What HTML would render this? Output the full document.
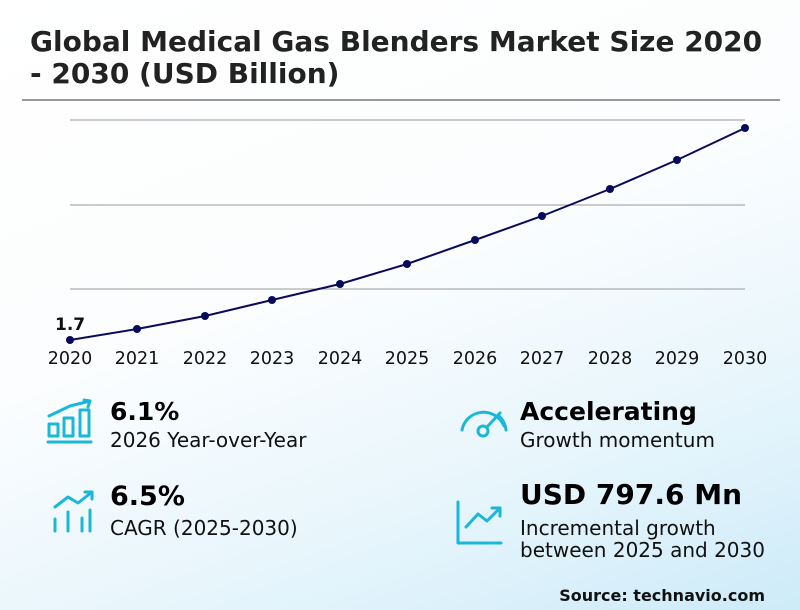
<!DOCTYPE html>
<html><head><meta charset="utf-8"><style>
html,body{margin:0;padding:0}
body{width:800px;height:610px;overflow:hidden;background:linear-gradient(160deg,#ffffff 0%,#fbfdfe 45%,#e6f5fc 75%,#cdebf8 100%);font-family:"DejaVu Sans","Liberation Sans",sans-serif}
</style></head><body>
<svg width="800" height="610" xmlns="http://www.w3.org/2000/svg" style="position:absolute;left:0;top:0;font-family:'DejaVu Sans','Liberation Sans',sans-serif">
<text x="30" y="51" font-size="28" font-weight="bold" fill="#222">Global Medical Gas Blenders Market Size 2020</text>
<text x="30" y="83" font-size="28" font-weight="bold" fill="#222">- 2030 (USD Billion)</text>
<line x1="22" y1="100" x2="780" y2="100" stroke="#777" stroke-width="1.5"/>
<g stroke="#999" stroke-width="1">
<line x1="70" y1="120" x2="745" y2="120"/><line x1="70" y1="205" x2="745" y2="205"/><line x1="70" y1="289" x2="745" y2="289"/>
</g>
<polyline fill="none" stroke="#0a0a5a" stroke-width="2" points="70,340 137,329 205,316 272,300 340,284 407,264 475,240 542,216 610,189 677,160 745,128"/>
<g fill="#0a0a5a">
<circle cx="70" cy="340" r="4"/><circle cx="137" cy="329" r="4"/><circle cx="205" cy="316" r="4"/><circle cx="272" cy="300" r="4"/><circle cx="340" cy="284" r="4"/><circle cx="407" cy="264" r="4"/><circle cx="475" cy="240" r="4"/><circle cx="542" cy="216" r="4"/><circle cx="610" cy="189" r="4"/><circle cx="677" cy="160" r="4"/><circle cx="745" cy="128" r="4"/>
</g>
<text x="55" y="330" font-size="17" font-weight="bold" fill="#111">1.7</text>
<g font-size="17.5" fill="#111" text-anchor="middle">
<text x="70" y="364">2020</text><text x="137" y="364">2021</text><text x="205" y="364">2022</text><text x="272" y="364">2023</text><text x="340" y="364">2024</text><text x="407" y="364">2025</text><text x="475" y="364">2026</text><text x="542" y="364">2027</text><text x="610" y="364">2028</text><text x="677" y="364">2029</text><text x="745" y="364">2030</text>
</g>
<g stroke="#1ab8d8" stroke-width="3" fill="none" stroke-linecap="round" stroke-linejoin="round">
<line x1="48" y1="442" x2="91" y2="442"/>
<rect x="49" y="424" width="9" height="12"/><rect x="64" y="418" width="9" height="18"/><rect x="80" y="410" width="9" height="26"/>
<polyline points="49,416 70,406 90,401"/><polyline points="84,400 90,401 88,407"/>
<line x1="55" y1="519" x2="55" y2="531"/><line x1="68" y1="512" x2="68" y2="531"/><line x1="82" y1="518" x2="82" y2="531"/><line x1="90" y1="510" x2="90" y2="531"/>
<polyline points="55,507 68,497 78,503 92,492"/><polyline points="85,492 92,492 92,499"/>
<path d="M462,430 A22,22 0 0 1 504,426"/>
<path d="M499,416 A22,22 0 0 1 506,430"/>
<circle cx="483" cy="431" r="5"/><line x1="487" y1="427" x2="500" y2="413"/>
<polyline points="458,502 458,543 501,543"/>
<polyline points="466,527 478,514 487,521 500,508"/><polyline points="492,508 500,508 500,516"/>
</g>
<text x="110" y="420" font-size="25" font-weight="bold" fill="#000">6.1%</text>
<text x="110" y="447" font-size="20" fill="#111">2026 Year-over-Year</text>
<text x="110" y="505" font-size="27" font-weight="bold" fill="#000">6.5%</text>
<text x="110" y="535" font-size="20" fill="#111">CAGR (2025-2030)</text>
<text x="520" y="420" font-size="25" font-weight="bold" fill="#000">Accelerating</text>
<text x="520" y="447" font-size="20" fill="#111">Growth momentum</text>
<text x="520" y="504" font-size="28" font-weight="bold" fill="#000">USD 797.6 Mn</text>
<text x="520" y="535" font-size="20" fill="#111">Incremental growth</text>
<text x="520" y="557" font-size="20" fill="#111">between 2025 and 2030</text>
<text x="765" y="601" font-size="16" font-weight="bold" fill="#111" text-anchor="end">Source: technavio.com</text>
</svg>
</body></html>
